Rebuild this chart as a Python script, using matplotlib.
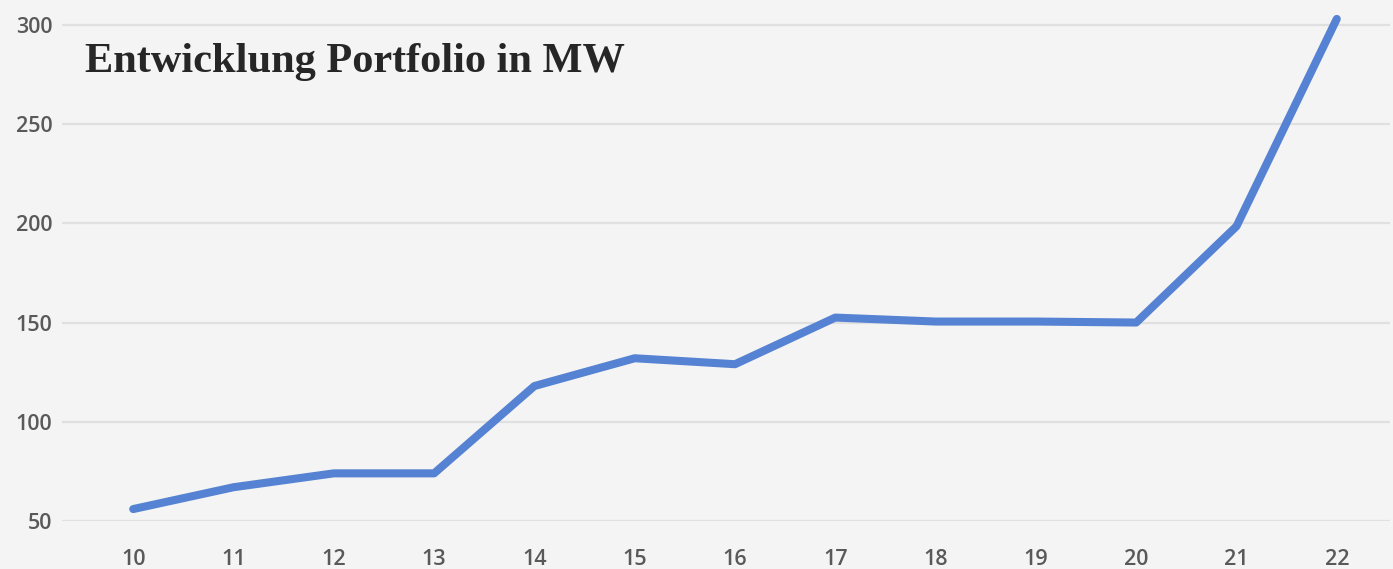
import matplotlib.pyplot as plt

years = [10, 11, 12, 13, 14, 15, 16, 17, 18, 19, 20, 21, 22]
portfolio_mw = [56, 67, 74, 74, 118, 132, 129, 152.5, 150.5, 150.5, 150, 198.5, 303]
y_ticks = [50, 100, 150, 200, 250, 300]

fig = plt.figure(figsize=(13.93, 5.69), dpi=100)
fig.patch.set_facecolor("#f4f4f4")
ax = fig.add_axes([0.0445, 0.0844, 0.9533, 0.8893])
ax.set_facecolor("#f4f4f4")

ax.plot(years, portfolio_mw, color="#5582d2", lw=5.8, solid_capstyle="round",
        solid_joinstyle="round", clip_on=False, zorder=3)

ax.set_xlim(9.29, 22.53)
ax.set_ylim(50, 305)
ax.set_xticks(years)
ax.set_yticks(y_ticks)
ax.grid(axis="y", color="#e0e0e0", lw=1.6)
ax.set_axisbelow(True)
for s in ax.spines.values():
    s.set_visible(False)
ax.tick_params(length=0, colors="#595959", labelsize=15.5)
ax.tick_params(axis="x", pad=20)
ax.tick_params(axis="y", pad=7)
for lab in ax.get_xticklabels() + ax.get_yticklabels():
    lab.set_family("Open Sans")
    lab.set_fontweight("semibold")

fig.text(85 / 1393, 1 - 72 / 569, "Entwicklung Portfolio in MW", family="Liberation Serif",
         fontweight="bold", fontsize=30.5, color="#262626", ha="left", va="baseline")

fig.savefig("out.png", dpi=100, facecolor=fig.get_facecolor())
